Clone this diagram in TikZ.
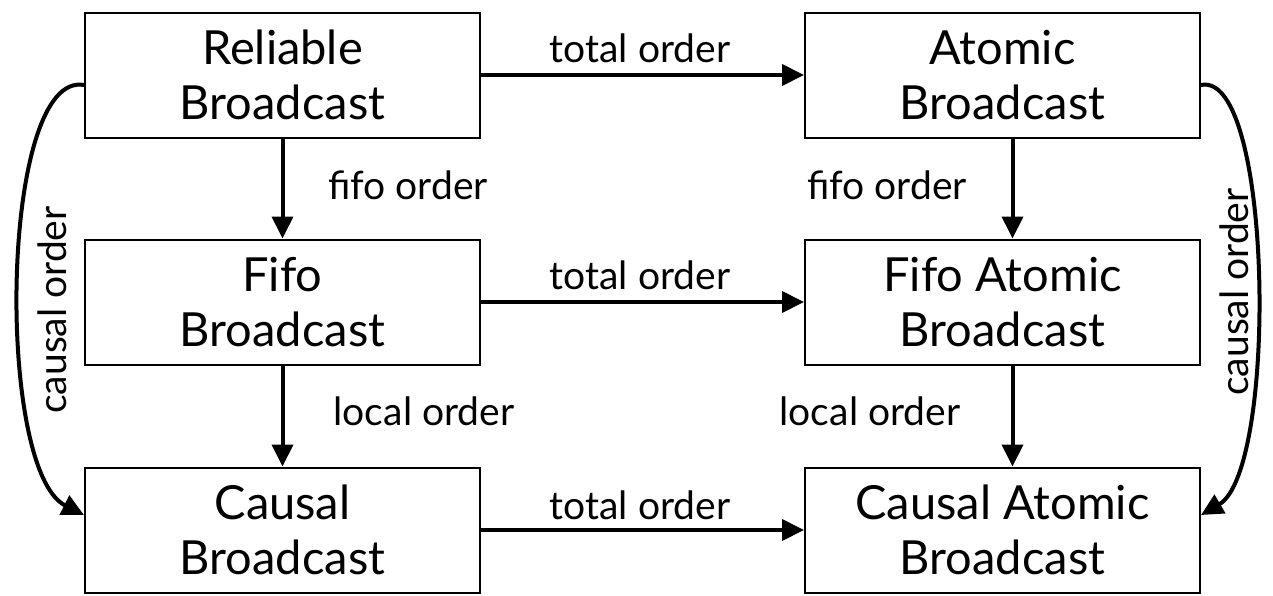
\documentclass[tikz,border=0pt]{standalone}
\usepackage{fontspec}
\setmainfont{Lato}
\usetikzlibrary{arrows.meta}
\tikzset{
  bcast/.style={draw, line width=2pt, minimum width=395pt, minimum height=125pt,
    align=center, font=\fontsize{47}{55}\selectfont, inner sep=0pt},
  link/.style={line width=4pt, -{Triangle[length=22pt,width=21pt]}},
  lbl/.style={font=\fontsize{39}{44}\selectfont, inner sep=0pt},
}
\begin{document}
\begin{tikzpicture}[x=1pt, y=-1pt]
\useasboundingbox (0,0) rectangle (1273,595);

\node[bcast] (RB)  at (282.5,75)   {Reliable\\Broadcast};
\node[bcast] (AB)  at (1002.5,75)  {Atomic\\Broadcast};
\node[bcast] (FB)  at (282.5,302)  {Fifo\\Broadcast};
\node[bcast] (FAB) at (1002.5,302) {Fifo Atomic\\Broadcast};
\node[bcast] (CB)  at (282.5,530)  {Causal\\Broadcast};
\node[bcast] (CAB) at (1002.5,530) {Causal Atomic\\Broadcast};

% total order, left to right
\draw[link] (RB) -- (AB);
\draw[link] (FB) -- (FAB);
\draw[link] (CB) -- (CAB);
\node[lbl] (t1) at (640,48)  {total order};
\node[lbl] (t2) at (640,275) {total order};
\node[lbl] (t3) at (640,505) {total order};

% fifo and local order, downwards
\draw[link] (RB) -- (FB);
\draw[link] (FB) -- (CB);
\draw[link] ([xshift=10pt]AB.south) -- ([xshift=10pt]FAB.north);
\draw[link] ([xshift=10pt]FAB.south) -- ([xshift=10pt]CAB.north);
\node[lbl] (f1) at (408,185) {fifo order};
\node[lbl] (f2) at (887,185) {fifo order};
\node[lbl] (l1) at (424,411) {local order};
\node[lbl] (l2) at (870,411) {local order};

% causal order, around the sides
\draw[link] ([yshift=-10pt]RB.west) .. controls (0,70) and (-5,470) .. ([yshift=15pt]CB.west);
\draw[link] ([yshift=-10pt]AB.east) .. controls (1273,70) and (1278,470) .. ([yshift=15pt]CAB.east);
\node[lbl, rotate=90] (c1) at (52,310)   {causal order};
\node[lbl, rotate=90] (c2) at (1234,292) {causal order};
\end{tikzpicture}
\end{document}
